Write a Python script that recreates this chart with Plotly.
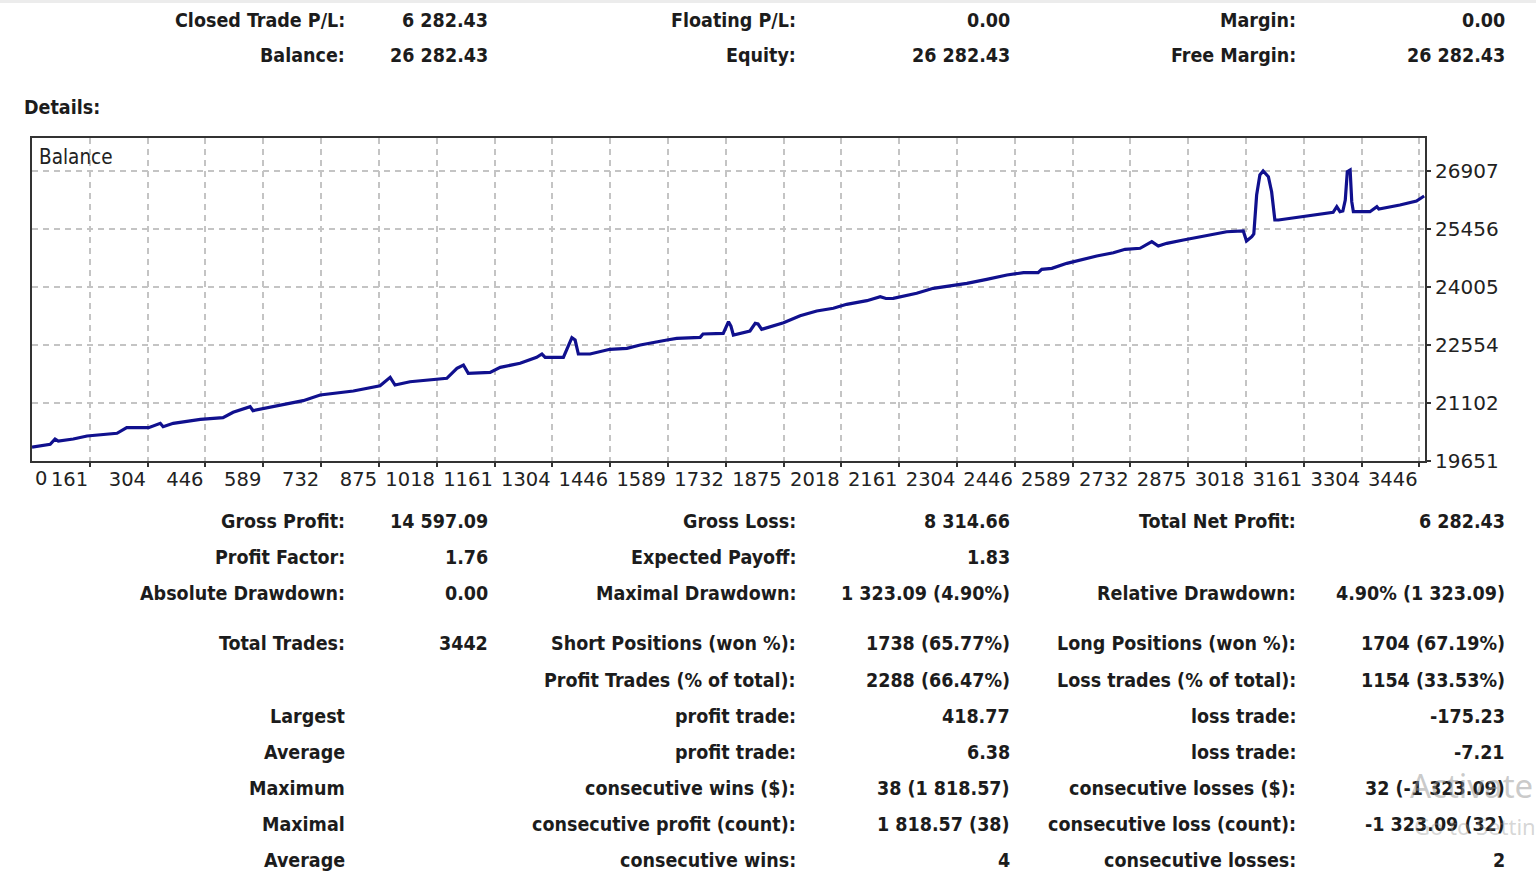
import plotly.graph_objects as go

# ---------------- data ----------------
trade_no = [18, 63, 75, 83, 120, 154, 228, 252, 306, 335, 342, 367, 434, 490, 515, 557, 564, 614,
            688, 730, 812, 878, 903, 915, 952, 1043, 1068, 1084, 1096, 1150, 1175, 1224, 1265, 1278,
            1286, 1331, 1343, 1352, 1360, 1368, 1397, 1446, 1488, 1521, 1587, 1611, 1669, 1676, 1726,
            1739, 1745, 1751, 1792, 1805, 1812, 1821, 1875, 1916, 1957, 1998, 2031, 2081, 2114, 2128,
            2146, 2204, 2245, 2328, 2377, 2427, 2468, 2504, 2513, 2538, 2575, 2608, 2649, 2690, 2719,
            2756, 2785, 2801, 2822, 2863, 2904, 2970, 3011, 3019, 3032, 3037, 3044, 3052, 3060, 3073,
            3081, 3089, 3098, 3135, 3184, 3233, 3242, 3250, 3257, 3263, 3268, 3275, 3279, 3283, 3324,
            3341, 3346, 3398, 3439, 3458]
balance = [20000, 20069, 20201, 20151, 20201, 20277, 20344, 20484, 20484, 20594, 20509, 20594, 20694,
           20734, 20869, 21010, 20910, 21010, 21160, 21302, 21402, 21535, 21745, 21553, 21635, 21720,
           21970, 22053, 21845, 21870, 21995, 22095, 22246, 22328, 22246, 22246, 22511, 22736, 22678,
           22328, 22328, 22446, 22471, 22553, 22678, 22721, 22746, 22829, 22846, 23136, 23028, 22804,
           22904, 23096, 23079, 22946, 23111, 23286, 23404, 23472, 23572, 23662, 23762, 23717, 23722,
           23847, 23972, 24097, 24197, 24305, 24362, 24362, 24447, 24472, 24597, 24680, 24780, 24863,
           24948, 24973, 25138, 25030, 25098, 25180, 25263, 25388, 25406, 25155, 25263, 25331, 26306,
           26807, 26907, 26764, 26389, 25681, 25681, 25738, 25806, 25873, 26014, 25889, 25906, 26181,
           26889, 26932, 26139, 25889, 25889, 26014, 25956, 26056, 26156, 26282]

x_tick_labels = ["0", "161", "304", "446", "589", "732", "875", "1018", "1161", "1304", "1446",
                 "1589", "1732", "1875", "2018", "2161", "2304", "2446", "2589", "2732", "2875",
                 "3018", "3161", "3304", "3446"]
y_tick_labels = ["19651", "21102", "22554", "24005", "25456", "26907"]
x_axis_span = [18, 3460]
y_axis_span = [19651, 27733]

top_labels = [["Closed Trade P/L:", "Floating P/L:", "Margin:"],
              ["Balance:", "Equity:", "Free Margin:"]]
top_values = [["6 282.43", "0.00", "0.00"],
              ["26 282.43", "26 282.43", "26 282.43"]]

bottom_labels = [
    ["Gross Profit:", "Gross Loss:", "Total Net Profit:"],
    ["Profit Factor:", "Expected Payoff:", ""],
    ["Absolute Drawdown:", "Maximal Drawdown:", "Relative Drawdown:"],
    ["Total Trades:", "Short Positions (won %):", "Long Positions (won %):"],
    ["", "Profit Trades (% of total):", "Loss trades (% of total):"],
    ["Largest", "profit trade:", "loss trade:"],
    ["Average", "profit trade:", "loss trade:"],
    ["Maximum", "consecutive wins ($):", "consecutive losses ($):"],
    ["Maximal", "consecutive profit (count):", "consecutive loss (count):"],
    ["Average", "consecutive wins:", "consecutive losses:"],
]
bottom_values = [
    ["14 597.09", "8 314.66", "6 282.43"],
    ["1.76", "1.83", ""],
    ["0.00", "1 323.09 (4.90%)", "4.90% (1 323.09)"],
    ["3442", "1738 (65.77%)", "1704 (67.19%)"],
    ["", "2288 (66.47%)", "1154 (33.53%)"],
    ["", "418.77", "-175.23"],
    ["", "6.38", "-7.21"],
    ["", "38 (1 818.57)", "32 (-1 323.09)"],
    ["", "1 818.57 (38)", "-1 323.09 (32)"],
    ["", "4", "2"],
]

# ---------------- layout geometry (pixels) ----------------
W, H = 1536, 879
PL, PR, PT, PB = 32, 1425, 138, 461
FONT_C = "DejaVu Sans Condensed, DejaVu Sans, sans-serif"
FONT = "DejaVu Sans, Verdana, sans-serif"
TXT = "#1c1c1c"
PAD = 2  # annotation box padding compensation

def px(xp):
    return (xp - PL) / (PR - PL)

def py(yp):
    return (PB - yp) / (PB - PT)

label_right = [345, 796, 1296]
value_right = [488, 1010, 1505]
top_rows_y = [20, 56]
bottom_rows_y = [521, 557, 593, 643, 680, 716, 752, 788, 824, 860]

annotations = []

def add_text(text, xp, yp, anchor="right", size=19.5, bold=True, color=TXT, family=FONT_C):
    if not text:
        return
    shift = PAD if anchor == "right" else -PAD
    annotations.append(dict(
        text=f"<b>{text}</b>" if bold else text,
        x=px(xp + shift), y=py(yp), xref="paper", yref="paper",
        xanchor=anchor, yanchor="middle", showarrow=False,
        font=dict(family=family, size=size, color=color)))

for r, yp in enumerate(top_rows_y):
    for c in range(3):
        add_text(top_labels[r][c], label_right[c], yp)
        add_text(top_values[r][c], value_right[c], yp)

add_text("Details:", 24, 107, anchor="left")

for r, yp in enumerate(bottom_rows_y):
    for c in range(3):
        add_text(bottom_labels[r][c], label_right[c], yp)
        add_text(bottom_values[r][c], value_right[c], yp)

# chart caption and first x label
add_text("Balance", 39, 157, anchor="left", size=20.5, bold=False, color="#222")
add_text(x_tick_labels[0], 35, 478, anchor="left", size=19.5, bold=False, color="#222", family=FONT)

# faint OS watermark seen in the screenshot
annotations.append(dict(text="Activate Windows", x=px(1408), y=py(785), xref="paper", yref="paper",
                        xanchor="left", yanchor="middle", showarrow=False,
                        font=dict(family="Noto Sans, sans-serif", size=33, color="rgba(150,150,150,0.5)")))
annotations.append(dict(text="Go to Settings to activate Windows.", x=px(1412), y=py(826), xref="paper",
                        yref="paper", xanchor="left", yanchor="middle", showarrow=False,
                        font=dict(family="Noto Sans, sans-serif", size=22, color="rgba(150,150,150,0.4)")))

fig = go.Figure()
fig.add_trace(go.Scatter(x=trade_no, y=balance, mode="lines",
                         line=dict(color="#10108e", width=3.2), hoverinfo="skip", showlegend=False))

fig.update_layout(
    width=W, height=H,
    margin=dict(l=PL, r=W - PR, t=PT, b=H - PB, pad=0),
    paper_bgcolor="white", plot_bgcolor="white",
    annotations=annotations,
    shapes=[dict(type="rect", xref="paper", yref="paper", x0=px(0), x1=px(W), y0=py(0), y1=py(3),
                 line=dict(width=0), fillcolor="#ececec", layer="below")],
)

fig.update_xaxes(
    range=x_axis_span,
    tickvals=[int(v) for v in x_tick_labels[1:]],
    ticktext=x_tick_labels[1:],
    tickangle=0,
    ticks="outside", ticklen=4, tickwidth=1.5, tickcolor="#333",
    ticklabelposition="outside left",
    tickfont=dict(family=FONT, size=19.5, color="#222"),
    showgrid=True, gridcolor="#c4c4c4", gridwidth=1.5, griddash="6px,5px",
    showline=True, linecolor="#333", linewidth=2, mirror=True, zeroline=False,
)
fig.update_yaxes(
    range=y_axis_span, side="right",
    tickvals=[int(v) for v in y_tick_labels], ticktext=y_tick_labels,
    ticks="outside", ticklen=4, tickwidth=1.5, tickcolor="#333",
    tickfont=dict(family=FONT, size=20, color="#222"),
    showgrid=True, gridcolor="#c4c4c4", gridwidth=1.5, griddash="6px,5px",
    showline=True, linecolor="#333", linewidth=2, mirror=True, zeroline=False,
)

fig.write_html("out.html")
